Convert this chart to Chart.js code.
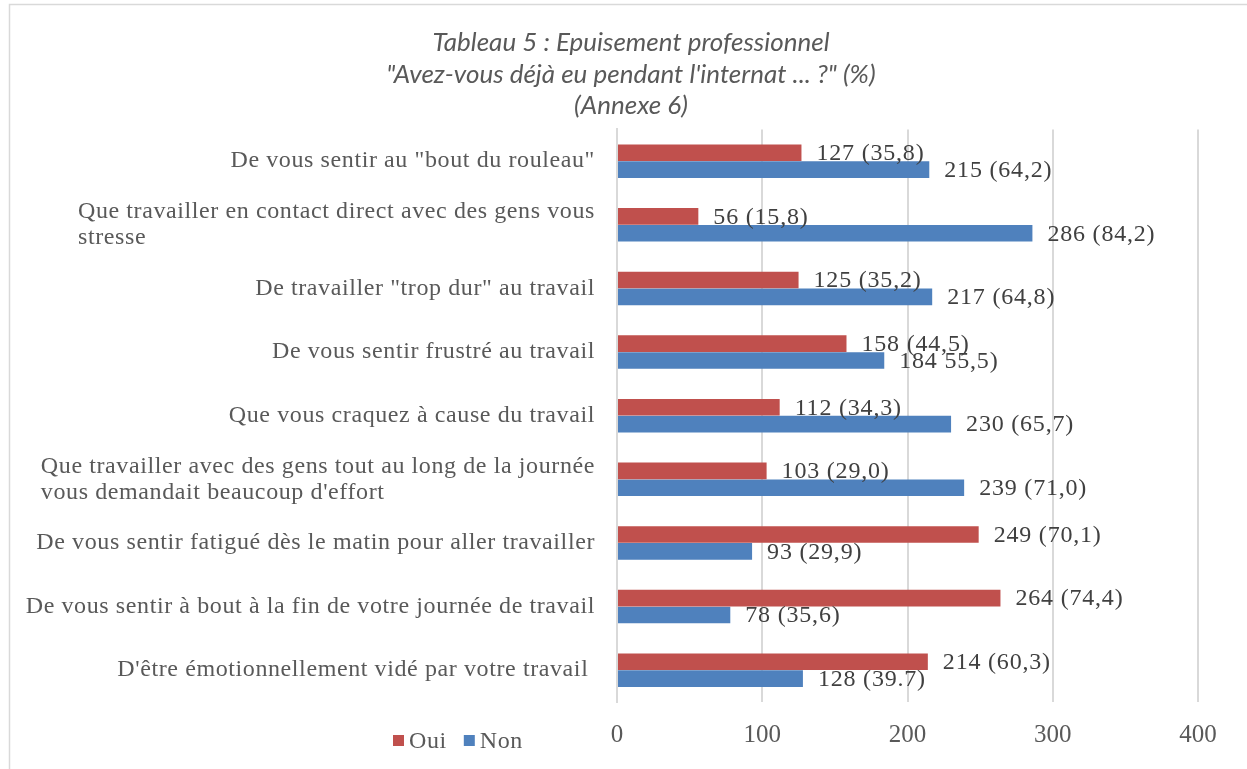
<!DOCTYPE html>
<html>
<head>
<meta charset="utf-8">
<script src="https://cdn.jsdelivr.net/npm/chart.js@4"></script>
<style>
  html, body { margin: 0; padding: 0; background: #fff; }
  #wrap { width: 1247px; height: 769px; }
</style>
</head>
<body>
<div id="wrap"><canvas id="myChart"></canvas></div>
<script>
// donnees du tableau 5
const categories = [
    ['De vous sentir au "bout du rouleau"'],
    ['Que travailler en contact direct avec des gens vous', 'stresse'],
    ['De travailler "trop dur" au travail'],
    ['De vous sentir frustré au travail'],
    ['Que vous craquez à cause du travail'],
    ['Que travailler avec des gens tout au long de la journée', "vous demandait beaucoup d'effort"],
    ['De vous sentir fatigué dès le matin pour aller travailler'],
    ['De vous sentir à bout à la fin de votre journée de travail'],
    ["D'être émotionnellement vidé par votre travail "]
];
const oui = [127, 56, 125, 158, 112, 103, 249, 264, 214];
const non = [215, 286, 217, 184, 230, 239, 93, 78, 128];
const ouiLabels = ['127 (35,8)', '56 (15,8)', '125 (35,2)', '158 (44,5)', '112 (34,3)', '103 (29,0)', '249 (70,1)', '264 (74,4)', '214 (60,3)'];
const nonLabels = ['215 (64,2)', '286 (84,2)', '217 (64,8)', '184 55,5)', '230 (65,7)', '239 (71,0)', '93 (29,9)', '78 (35,6)', '128 (39.7)'];
const xTicks = [0, 100, 200, 300, 400];

const serif = "'Liberation Serif', serif";
const grey = '#595959';

// cadre + etiquettes + legende dessines a la main
const extras = {
    id: 'extras',
    beforeDraw(chart) {
        const c = chart.ctx;
        c.save();
        c.fillStyle = '#fff';
        c.fillRect(0, 0, chart.width, chart.height);
        c.strokeStyle = '#d9d9d9';
        c.lineWidth = 1.5;
        c.strokeRect(9.5, 4.5, chart.width + 10, chart.height + 10);
        c.restore();
    },
    afterDraw(chart) {
        const c = chart.ctx;
        const y = chart.scales.y;
        c.save();
        c.font = '24px ' + serif;
        c.letterSpacing = '0.6px';
        c.fillStyle = grey;
        c.textBaseline = 'middle';
        c.textAlign = 'left';
        // noms des categories (alignes a gauche dans leur bloc)
        categories.forEach((lines, i) => {
            const cy = y.getPixelForValue(i);
            const w = Math.max(...lines.map(l => c.measureText(l).width));
            const lh = 26;
            const top = cy - (lines.length - 1) * lh / 2;
            lines.forEach((l, k) => c.fillText(l, y.right - 22 - w, top + k * lh));
        });
        // valeurs
        const labs = [ouiLabels, nonLabels];
        c.letterSpacing = '0.8px';
        c.fillStyle = '#404040';
        chart.data.datasets.forEach((ds, d) => {
            chart.getDatasetMeta(d).data.forEach((bar, i) => {
                c.fillText(labs[d][i], bar.x + 15, bar.y + 1);
            });
        });
        // legende
        let lx = 393;
        const ly = 741;
        c.letterSpacing = '0.6px';
        chart.data.datasets.forEach(ds => {
            c.fillStyle = ds.backgroundColor;
            c.fillRect(lx, ly - 6, 11, 11);
            c.fillStyle = grey;
            c.fillText(ds.label, lx + 16, ly + 1);
            lx += 16 + c.measureText(ds.label).width + 17;
        });
        c.restore();
    }
};

new Chart(document.getElementById('myChart'), {
    type: 'bar',
    data: {
        labels: categories,
        datasets: [
            { label: 'Oui', data: oui, backgroundColor: '#C0504D' },
            { label: 'Non', data: non, backgroundColor: '#4F81BD' }
        ]
    },
    options: {
        indexAxis: 'y',
        responsive: true,
        maintainAspectRatio: false,
        animation: false,
        layout: { padding: { left: 64, right: 49, top: 0, bottom: 0 } },
        datasets: { bar: { barPercentage: 0.98, categoryPercentage: 0.53 } },
        plugins: {
            legend: { display: false },
            tooltip: { enabled: false },
            title: {
                display: true,
                text: ['Tableau 5 : Epuisement professionnel', '"Avez-vous déjà eu pendant l\'internat ... ?" (%)', '(Annexe 6)'],
                color: grey,
                font: { family: 'Lato', style: 'italic', weight: 'normal', size: 26, lineHeight: 1.21 },
                padding: { top: 27, bottom: 8 }
            }
        },
        scales: {
            x: {
                min: 0,
                max: 400,
                afterBuildTicks: s => { s.ticks = xTicks.map(v => ({ value: v })); },
                afterFit: s => { s.height = 67; },
                grid: { color: '#d9d9d9', lineWidth: 2, drawTicks: false },
                border: { display: false },
                ticks: { color: grey, padding: 18, font: { family: serif, size: 25 } }
            },
            y: {
                afterFit: s => { s.width = 553; },
                grid: { display: false },
                border: { display: true, color: '#d9d9d9', width: 2 },
                ticks: { display: false }
            }
        }
    },
    plugins: [extras]
});
</script>
</body>
</html>
